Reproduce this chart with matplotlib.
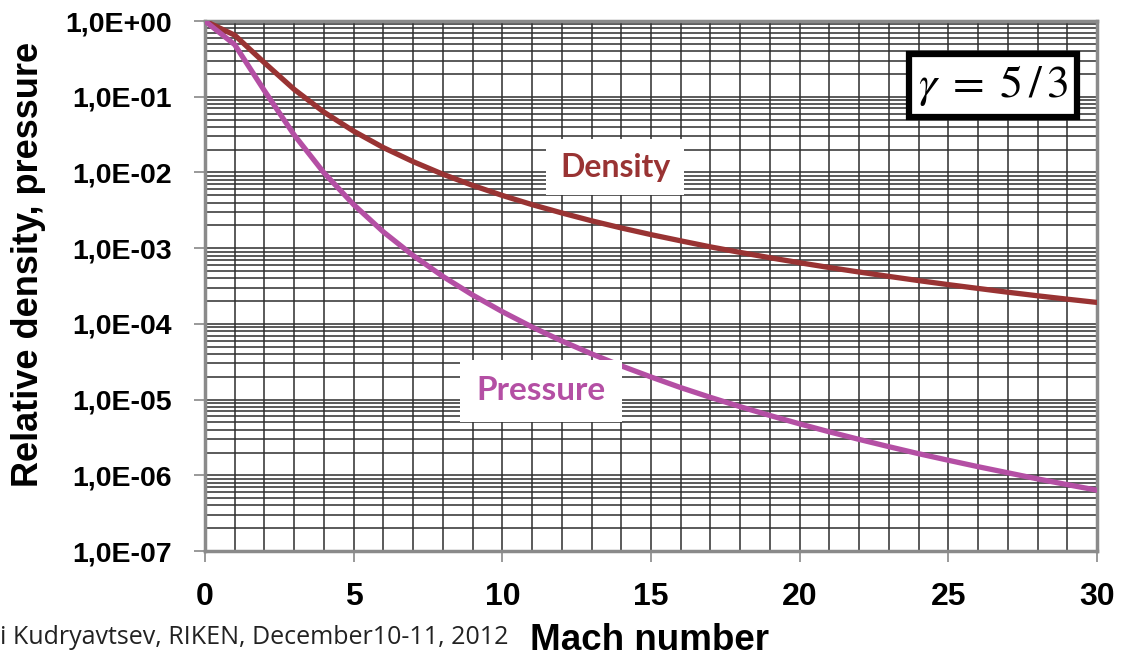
import matplotlib
matplotlib.use("Agg")
import matplotlib.pyplot as plt
from matplotlib.ticker import FixedLocator, FixedFormatter, LogLocator, NullFormatter

# Mach number and relative density / pressure (gamma = 5/3)
mach = [0, 1, 2, 3, 4, 5, 6, 7, 8, 9, 10, 11, 12, 13, 14, 15,
        16, 17, 18, 19, 20, 21, 22, 23, 24, 25, 26, 27, 28, 29, 30]
density = [1.0, 0.65, 0.281, 0.125, 0.0627, 0.0351, 0.0213, 0.0139, 0.00948, 0.00675,
           0.00497, 0.00376, 0.00292, 0.00230, 0.00185, 0.00151, 0.00125, 0.00104,
           8.79e-4, 7.48e-4, 6.42e-4, 5.55e-4, 4.84e-4, 4.24e-4, 3.73e-4, 3.30e-4,
           2.94e-4, 2.62e-4, 2.35e-4, 2.12e-4, 1.92e-4]
pressure = [1.0, 0.487, 0.120, 0.0313, 0.00991, 0.00376, 0.00164, 8.0e-4, 4.24e-4,
            2.41e-4, 1.45e-4, 9.1e-5, 5.95e-5, 4.02e-5, 2.79e-5, 1.99e-5, 1.44e-5,
            1.07e-5, 8.06e-6, 6.17e-6, 4.78e-6, 3.75e-6, 2.98e-6, 2.39e-6, 1.93e-6,
            1.58e-6, 1.30e-6, 1.08e-6, 8.97e-7, 7.53e-7, 6.36e-7]

x_ticks = [0, 5, 10, 15, 20, 25, 30]
y_ticks = [1e-7, 1e-6, 1e-5, 1e-4, 1e-3, 1e-2, 1e-1, 1e0]
y_tick_labels = ["1,0E-07", "1,0E-06", "1,0E-05", "1,0E-04",
                 "1,0E-03", "1,0E-02", "1,0E-01", "1,0E+00"]

dens_col = "#993333"
pres_col = "#b44fa4"

plt.rcParams["mathtext.fontset"] = "stix"

fig = plt.figure(figsize=(11.35, 6.57), dpi=100)
ax = fig.add_axes([0.1806, 0.1613, 0.7859, 0.8067])

ax.set_yscale("log")
ax.set_xlim(0, 30)
ax.set_ylim(1e-7, 1)

# grid: every Mach unit, every 1..9 in each decade
ax.xaxis.set_major_locator(FixedLocator(x_ticks))
ax.xaxis.set_minor_locator(FixedLocator(list(range(31))))
ax.yaxis.set_major_locator(FixedLocator(y_ticks))
ax.yaxis.set_major_formatter(FixedFormatter(y_tick_labels))
ax.yaxis.set_minor_locator(LogLocator(base=10, subs=range(2, 10), numticks=20))
ax.yaxis.set_minor_formatter(NullFormatter())
ax.grid(which="both", axis="both", color="#2e2e2e", linewidth=1.1)
ax.tick_params(which="minor", length=0)
ax.tick_params(which="major", length=8, width=1.2, color="#888888", direction="out")
ax.tick_params(axis="y", which="major", labelsize=20.5, pad=16)
ax.tick_params(axis="x", which="major", labelsize=23, pad=14)
for lab in ax.get_xticklabels() + ax.get_yticklabels():
    lab.set_fontweight("bold")
    lab.set_family("Liberation Sans")

for s in ax.spines.values():
    s.set_color("#8a8a8a")
    s.set_linewidth(2.5)
ax.set_axisbelow(True)

ax.plot(mach, density, color=dens_col, linewidth=3.8, solid_capstyle="round", zorder=3)
ax.plot(mach, pressure, color=pres_col, linewidth=3.8, solid_capstyle="round", zorder=3)

ax.text(13.8, 0.0118, "Density", color=dens_col, fontsize=23, fontweight="bold",
        family="Lato", ha="center", va="center", zorder=4,
        bbox=dict(facecolor="white", edgecolor="none", pad=10))
ax.text(11.3, 1.3e-5, "Pressure", color=pres_col, fontsize=24, fontweight="bold",
        family="Lato", ha="center", va="center", zorder=4,
        bbox=dict(facecolor="white", edgecolor="none", pad=12))

ax.text(26.5, 0.14, r"$\gamma\;=\;5\,/\,3$", fontsize=33, ha="center", va="center",
        zorder=5, bbox=dict(facecolor="white", edgecolor="black", linewidth=4.5,
                            boxstyle="square,pad=0.2"))

ax.set_xlabel("Mach number", fontsize=26.5, fontweight="bold", family="Liberation Sans")
ax.set_ylabel("Relative density, pressure", fontsize=26, fontweight="bold",
              family="Liberation Sans")
ax.xaxis.set_label_coords(0.498, -0.136)
ax.yaxis.set_label_coords(-0.178, 0.54)

fig.text(0.0, 0.03, "i Kudryavtsev, RIKEN, December10-11, 2012", fontsize=18,
         family="Open Sans", color="#222222", ha="left", va="center")

fig.savefig("out.png", dpi=100)
